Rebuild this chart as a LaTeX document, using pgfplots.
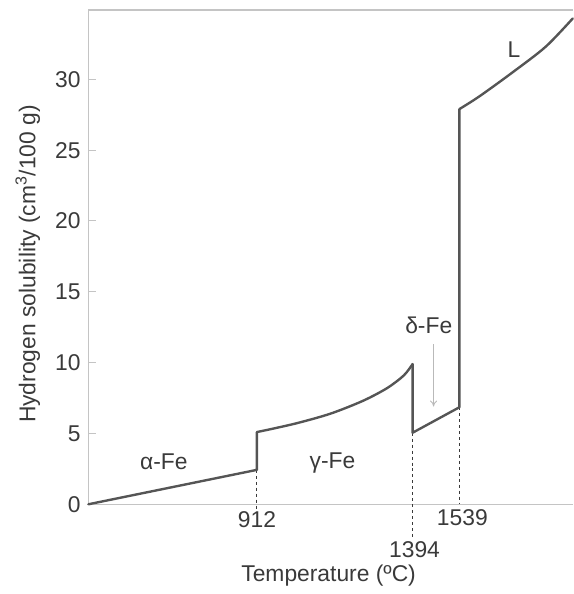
\documentclass[border=0pt]{standalone}
\usepackage{pgfplots}
\pgfplotsset{compat=1.18}
\usepackage{fontspec}
\setmainfont{Liberation Sans}
\usetikzlibrary{arrows.meta}
\definecolor{curve}{HTML}{555555}
\definecolor{txt}{HTML}{3A3A3A}
\definecolor{axisgray}{HTML}{C4C4C4}
\begin{document}
\fontsize{23}{27}\selectfont
\begin{tikzpicture}
\begin{axis}[
  scale only axis, width=488pt, height=498pt,
  xmin=390, xmax=1890, ymin=0, ymax=34.9,
  axis line style={draw=none},
  xtick=\empty,
  ytick={0,5,10,15,20,25,30},
  ytick pos=left,
  tick style={axisgray, line width=1pt},
  tick align=inside, major tick length=8pt,
  y tick label style={font=\fontsize{23}{27}\selectfont, text=txt},
  /pgf/number format/assume math mode=true,
  clip=false,
  sol/.style={curve, line width=2.4pt, line cap=round, line join=round},
]
% axis frame (left, top, bottom)
\draw[axisgray, line width=1.4pt] (rel axis cs:0,0) -- (rel axis cs:0,1) -- (rel axis cs:1,1);
\draw[axisgray, line width=1.1pt] (rel axis cs:0,0) -- (rel axis cs:1,0);
% dashed guides
\addplot[txt, line width=0.9pt, dash pattern=on 3pt off 3pt] coordinates {(912,2.43) (912,-0.4)};
\addplot[txt, line width=0.9pt, dash pattern=on 3pt off 3pt] coordinates {(1394,5.05) (1394,-2.3)};
\addplot[txt, line width=0.9pt, dash pattern=on 3pt off 3pt] coordinates {(1539,6.85) (1539,0)};
% solubility curve: alpha-Fe and jump
\addplot[sol] coordinates {(390,0) (912,2.43) (912,5.1)};
% gamma-Fe
\addplot[sol, smooth] coordinates {
  (912,5.1) (960,5.33) (1040,5.75) (1140,6.4) (1240,7.3) (1315,8.2) (1367,9.1) (1394,9.9)
};
% drop, delta-Fe, melting jump
\addplot[sol] coordinates {(1394,9.9) (1394,5.05) (1539,6.85) (1539,27.9)};
% liquid
\addplot[sol, smooth] coordinates {
  (1539,27.9) (1601,28.8) (1704,30.5) (1806,32.3) (1890,34.3)
};
% arrow
\draw[-{To[length=6pt,width=7pt]}, gray!55, line width=0.9pt] (axis cs:1459,11.3) -- (axis cs:1459,6.9);
% phase labels
\node[text=txt] at (axis cs:624,3.0) {α-Fe};
\node[text=txt] at (axis cs:1146,2.9) {γ-Fe};
\node[text=txt] at (axis cs:1444,12.66) {δ-Fe};
\node[text=txt] at (axis cs:1708,32.1) {L};
% x tick labels
\node[text=txt] at ([yshift=-15pt]axis cs:912,0) {912};
\node[text=txt] at ([yshift=-46pt]axis cs:1400,0) {1394};
\node[text=txt] at ([yshift=-13pt]axis cs:1548,0) {1539};
% axis labels
\node[text=txt] at ([yshift=-72pt]axis cs:1134,0) {Temperature (ºC)};
\node[text=txt, rotate=90] at ([xshift=-61pt]axis cs:390,16.96) {Hydrogen solubility (cm\textsuperscript{3}/100 g)};
\end{axis}
\path ([shift={(-89pt,-86pt)}]current axis.south west) rectangle ([shift={(0pt,10pt)}]current axis.north east);
\end{tikzpicture}
\end{document}
